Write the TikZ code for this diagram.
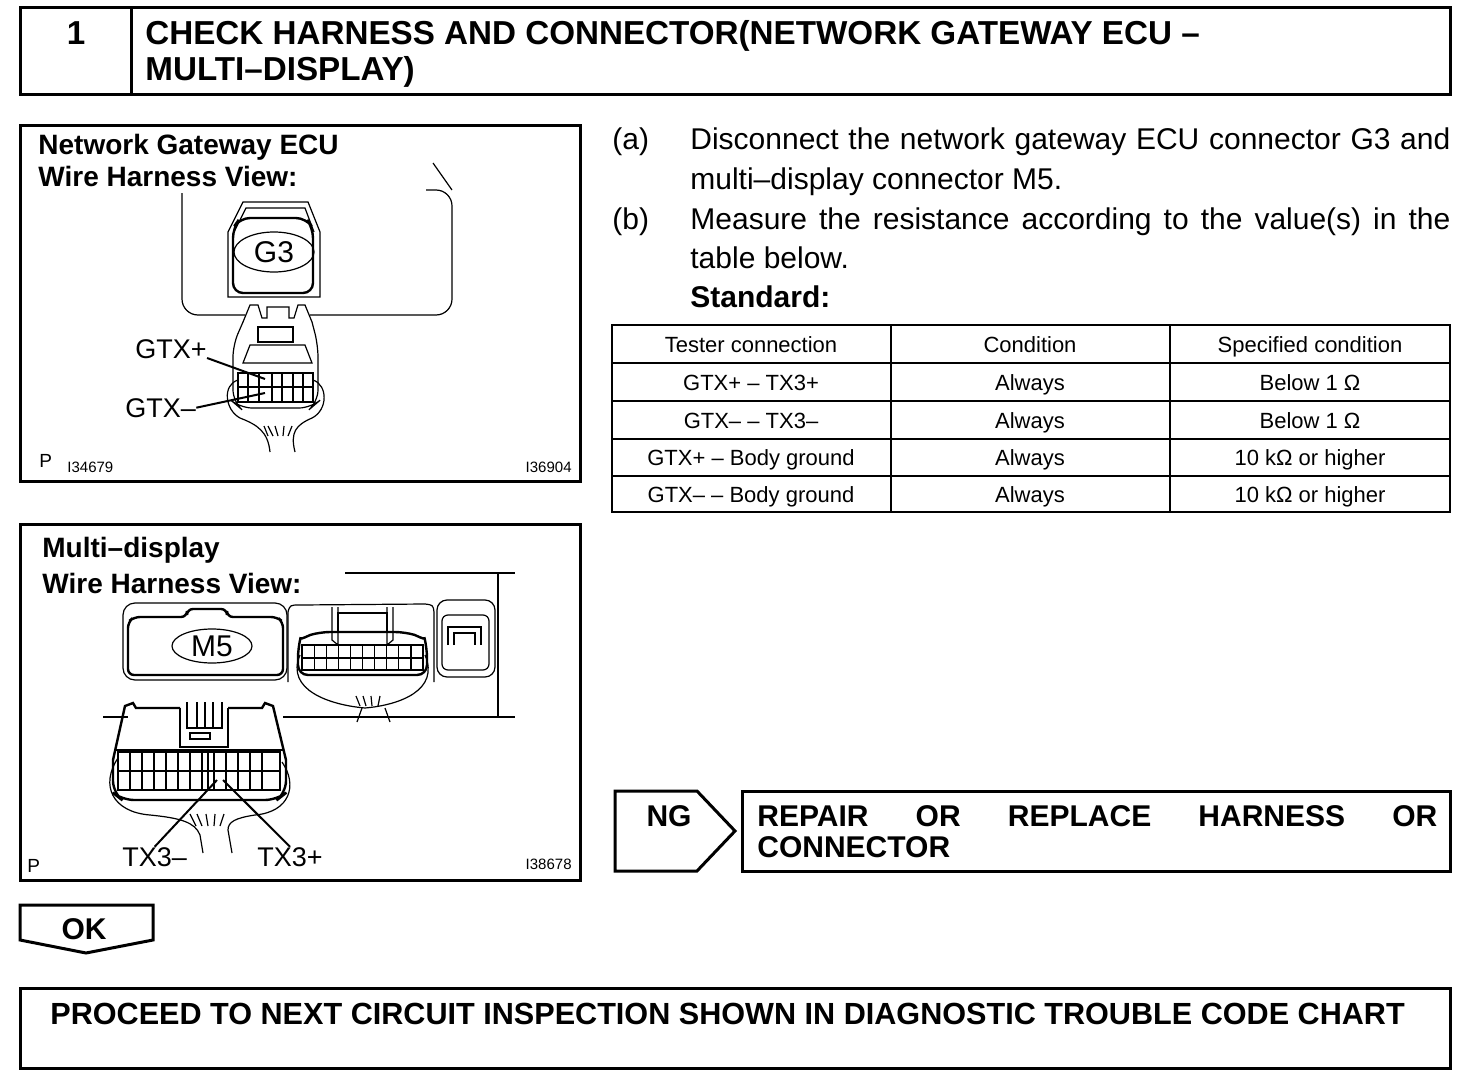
\documentclass[tikz,border=0pt]{standalone}
\usepackage{fontspec}
\setmainfont{Liberation Sans}
\usetikzlibrary{positioning,shapes.geometric}

\begin{document}
\begin{tikzpicture}[x=0.5pt, y=-0.5pt,
  box/.style={draw, line width=1.5pt},
  rule/.style={draw, line width=1pt},
  art/.style={line width=0.6pt},
  heavy/.style={line width=1.2pt},
  lead/.style={line width=1pt},
  txt/.style={inner sep=0pt, font=\fontsize{15pt}{18pt}\selectfont},
  head/.style={inner sep=0pt, font=\fontsize{16.6pt}{20pt}\selectfont\bfseries},
  fig/.style={inner sep=0pt, font=\fontsize{14pt}{16pt}\selectfont\bfseries},
  pin/.style={inner sep=0pt, font=\fontsize{13.5pt}{16pt}\selectfont},
  cell/.style={inner sep=0pt, font=\fontsize{11pt}{13pt}\selectfont},
  tag/.style={inner sep=0pt, font=\fontsize{7.5pt}{9pt}\selectfont},
  ptag/.style={inner sep=0pt, font=\fontsize{9.5pt}{11pt}\selectfont},
  btn/.style={inner sep=0pt, font=\fontsize{15pt}{18pt}\selectfont\bfseries},
  oval/.style={draw, ellipse, art, inner sep=0pt, font=\fontsize{15pt}{17pt}\selectfont}
]
\fill[white] (0,0) rectangle (1472,1086);
\useasboundingbox (0,0) rectangle (1472,1086);

% heading
\draw[box] (20,8) rectangle (1450,95);
\draw[box] (131,8) -- (131,95);
\node[head, anchor=base] (num) at (76,45) {1};
\node[head, anchor=base west] (head1) at (145,45) {CHECK HARNESS AND CONNECTOR(NETWORK GATEWAY ECU –};
\node[head, anchor=base west] (head2) at (145,81) {MULTI–DISPLAY)};

% network gateway ECU figure
\draw[box] (20,126) rectangle (580,481);
\node[fig, anchor=base west] (ecu1) at (38,155) {Network Gateway ECU};
\node[fig, anchor=base west] (ecu2) at (38,186) {Wire Harness View:};
\node[ptag, anchor=base west] (p1) at (39,467) {P};
\node[tag, anchor=base west] (id1) at (67,472) {I34679};
\node[tag, anchor=base east] (id2) at (572,472) {I36904};

\draw[art, rounded corners=8] (245,315) -- (182,315) -- (182,193);
\draw[art, rounded corners=8] (310,315) -- (452,315) -- (452,190) -- (426,190);
\draw[art] (433,163) -- (452,190);

\draw[art] (228,297) -- (228,232) -- (243,202) -- (308,202) -- (320,232) -- (320,297) -- cycle;
\draw[art] (234,232) -- (246,208) -- (305,208) -- (314,232);
\draw[heavy, rounded corners=5] (233,293) -- (233,228) -- (240,218) -- (306,218) -- (313,228) -- (313,293) -- cycle;
\node[oval, minimum width=40pt, minimum height=20pt] (g3) at (274,252) {G3};

\draw[art] (243,322) -- (250,305) -- (258,305) -- (262,318) -- (267,318) -- (267,307) -- (289,307) -- (289,318) -- (294,318) -- (298,305) -- (305,305) -- (312,322);
\draw[art, rounded corners=6] (243,322) -- (233,345) -- (233,402) -- (240,408) -- (311,408) -- (318,402) -- (318,345) -- (312,322);
\draw[art] (258,327) rectangle (293,342);
\draw[art] (243,363) -- (250,345) -- (305,345) -- (312,363) -- cycle;
\draw[art] (238,373) rectangle (313,402);
\draw[heavy] (238,387) -- (313,387);
\foreach \x in {248,259,272,282,293,303}
  \draw[art] (\x,373) -- (\x,402);
\draw[art] (238,380) .. controls (222,385) and (225,410) .. (240,418) .. controls (258,425) and (268,432) .. (270,452);
\draw[art] (313,380) .. controls (328,385) and (328,410) .. (312,418) .. controls (296,425) and (290,432) .. (295,452);
\foreach \a/\b in {268/264,273/268,278/275,283/284,288/292}
  \draw[art] (\a,436) -- (\b,426);

\node[pin, anchor=base west] (gtxp) at (135,358) {GTX+};
\node[pin, anchor=base west] (gtxm) at (125,417) {GTX–};
\coordinate (pinp) at (265,379);
\coordinate (pinm) at (265,393);
\draw[lead] (gtxp.base east) -- (pinp);
\draw[lead] (gtxm.east) -- (pinm);

% multi-display figure
\draw[box] (20,524) rectangle (580,880);
\node[fig, anchor=base west] (md1) at (42,557) {Multi–display};
\node[fig, anchor=base west] (md2) at (42,593) {Wire Harness View:};
\node[ptag, anchor=base west] (p2) at (27,872) {P};
\node[tag, anchor=base east] (id3) at (572,869) {I38678};

\draw[art] (345,573) -- (515,573);
\draw[art] (498,573) -- (498,717);
\draw[art] (283,717) -- (515,717);
\draw[art] (103,717) -- (128,717);

\draw[art, rounded corners=6] (123,603) rectangle (287,680);
\draw[heavy, rounded corners=3] (128,675) -- (128,622) -- (134,617) -- (187,617) -- (187,609) -- (227,609) -- (227,617) -- (277,617) -- (283,622) -- (283,675) -- cycle;
\node[oval, minimum width=40pt, minimum height=17pt] (m5) at (212,646) {M5};

\draw[art] (288,682) -- (288,612) .. controls (290,605) .. (300,605) -- (425,604) .. controls (433,605) .. (434,612) -- (434,682);
\draw[heavy, rounded corners=5] (298,675) -- (298,648) .. controls (300,640) and (310,635) .. (320,632) -- (405,632) .. controls (415,635) and (425,640) .. (427,648) -- (427,675) -- cycle;
\draw[art] (332,607) -- (332,640) -- (338,645) -- (338,607);
\draw[art] (387,607) -- (387,645) -- (393,640) -- (393,607);
\draw[art] (338,613) rectangle (387,632);
\draw[art] (302,645) rectangle (423,670);
\draw[art] (302,658) -- (423,658);
\foreach \i in {1,...,9}
  \draw[art] ({302+12.1*\i},645) -- ({302+12.1*\i},670);
\draw[art] (300,655) .. controls (285,690) and (330,705) .. (365,708) .. controls (400,705) and (440,690) .. (425,655);
\draw[art] (362,708) -- (357,722);
\draw[art] (385,708) -- (390,722);
\foreach \a/\b in {360/356,366/363,372/371,378/380}
  \draw[art] (\a,706) -- (\b,696);

\draw[art, rounded corners=5] (437,600) rectangle (495,677);
\draw[art, rounded corners=3] (442,615) rectangle (489,670);
\draw[art] (448,645) -- (448,627) -- (481,627) -- (481,645);
\draw[art] (454,645) -- (454,633) -- (475,633) -- (475,645);

\draw[heavy] (113,760) -- (125,706) -- (133,703) -- (136,708) -- (180,708);
\draw[heavy] (228,708) -- (262,708) -- (265,703) -- (273,706) -- (286,760);
\draw[art] (180,708) -- (180,747) -- (228,747) -- (228,708);
\draw[art] (187,702) -- (187,728) -- (222,728) -- (222,702);
\foreach \x in {197,205,213}
  \draw[art] (\x,702) -- (\x,728);
\draw[art] (190,733) rectangle (210,739);
\draw[art] (116,750) -- (283,750);
\draw[art] (118,752) rectangle (280,790);
\draw[art] (118,771) -- (280,771);
\foreach \x in {130,142,154,166,178,190,202,214,226,238,250,262}
  \draw[art] (\x,752) -- (\x,790);
\draw[heavy] (208,752) -- (208,790);
\draw[heavy, rounded corners=6] (113,760) -- (113,793) -- (122,800) -- (277,800) -- (286,793) -- (286,760);
\draw[art] (118,758) .. controls (100,785) and (112,812) .. (150,815) .. controls (180,818) and (195,822) .. (200,835) -- (203,853);
\draw[art] (282,762) .. controls (298,785) and (290,812) .. (255,815) .. controls (235,818) and (228,822) .. (228,830) -- (232,853);
\foreach \a/\b in {196/190,202/197,208/206,214/215,220/224}
  \draw[art] (\a,826) -- (\b,814);

\node[pin, anchor=base west] (tx3m) at (122,866) {TX3–};
\node[pin, anchor=base west] (tx3p) at (257,866) {TX3+};
\coordinate (pin3m) at (217,780);
\coordinate (pin3p) at (223,780);
\draw[lead] (tx3m.north) -- (pin3m);
\draw[lead] (tx3p.north) -- (pin3p);

% procedure text
\node[txt, anchor=base west] (la) at (612,149) {(a)};
\node[txt, anchor=base west] (sa1) at (690,149) {\makebox[380pt][s]{Disconnect the network gateway ECU connector G3 and}};
\node[txt, anchor=base west] (sa2) at (690,189) {multi–display connector M5.};
\node[txt, anchor=base west] (lb) at (612,229) {(b)};
\node[txt, anchor=base west] (sb1) at (690,229) {\makebox[380pt][s]{Measure the resistance according to the value(s) in the}};
\node[txt, anchor=base west] (sb2) at (690,268) {table below.};
\node[txt, anchor=base west, font=\fontsize{15pt}{18pt}\selectfont\bfseries] (std) at (690,307) {Standard:};

% table
\draw[rule] (612,325) rectangle (1450,512);
\foreach \y in {363,401,439,476}
  \draw[rule] (612,\y) -- (1450,\y);
\foreach \x in {891,1170}
  \draw[rule] (\x,325) -- (\x,512);
\node[cell, anchor=base] (h1) at (751,352) {Tester connection};
\node[cell, anchor=base] (h2) at (1030,352) {Condition};
\node[cell, anchor=base] (h3) at (1310,352) {Specified condition};
\node[cell, anchor=base] (a1) at (751,390) {GTX+ – TX3+};
\node[cell, anchor=base] (a2) at (1030,390) {Always};
\node[cell, anchor=base] (a3) at (1310,390) {Below 1 Ω};
\node[cell, anchor=base] (b1) at (751,428) {GTX– – TX3–};
\node[cell, anchor=base] (b2) at (1030,428) {Always};
\node[cell, anchor=base] (b3) at (1310,428) {Below 1 Ω};
\node[cell, anchor=base] (c1) at (751,465) {GTX+ – Body ground};
\node[cell, anchor=base] (c2) at (1030,465) {Always};
\node[cell, anchor=base] (c3) at (1310,465) {10 kΩ or higher};
\node[cell, anchor=base] (d1) at (751,502) {GTX– – Body ground};
\node[cell, anchor=base] (d2) at (1030,502) {Always};
\node[cell, anchor=base] (d3) at (1310,502) {10 kΩ or higher};

% NG branch
\draw[box] (615,791) -- (697,791) -- (735,831) -- (697,871) -- (615,871) -- cycle;
\node[btn, anchor=base] (ng) at (669,826) {NG};
\draw[box] (742,791) rectangle (1450,871);
\node[btn, anchor=base west] (rep1) at (757,826) {\makebox[340pt][s]{REPAIR OR REPLACE HARNESS OR}};
\node[btn, anchor=base west] (rep2) at (757,857) {CONNECTOR};

% OK branch
\draw[box] (20,905) -- (153,905) -- (153,940) -- (86,953) -- (20,940) -- cycle;
\node[btn, anchor=base] (ok) at (84,939) {OK};
\draw[box] (20,988) rectangle (1450,1068);
\node[btn, anchor=base west, font=\fontsize{15.3pt}{18pt}\selectfont\bfseries] (next) at (50,1024) {PROCEED TO NEXT CIRCUIT INSPECTION SHOWN IN DIAGNOSTIC TROUBLE CODE CHART};
\end{tikzpicture}
\end{document}
